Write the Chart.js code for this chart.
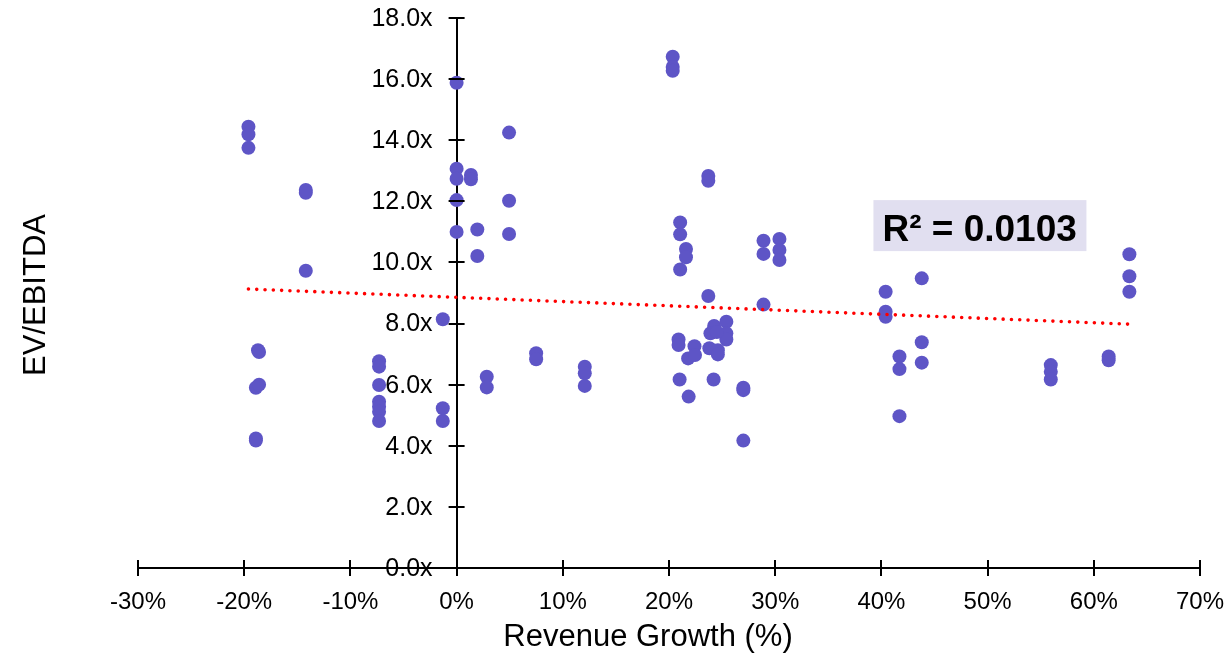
<!DOCTYPE html>
<html>
<head>
<meta charset="utf-8">
<script src="https://cdn.jsdelivr.net/npm/chart.js@4"></script>
<style>
  html, body { margin: 0; padding: 0; background: #fff; }
  #wrap { width: 1229px; height: 657px; position: relative; }
</style>
</head>
<body>
<div id="wrap"><canvas id="scatter"></canvas></div>
<script>
// values
const growthPct = [
  -19.6, -19.6, -19.6, -14.2, -14.2, -14.2,
  -18.7, -18.6, -18.9, -18.6, -18.9, -18.9,
  -7.3, -7.3, -7.3, -7.3, -7.3, -7.3, -7.3,
  -1.3, -1.3, -1.3,
  0, 0, 0, 0, 0, 1.35, 1.35, 1.95, 1.95,
  4.94, 4.94, 4.94, 2.84, 2.84, 7.49, 7.49,
  12.07, 12.07, 12.07,
  20.35, 20.35, 20.35, 23.7, 23.7, 23.7,
  21.05, 21.05, 21.05, 21.6, 21.6,
  28.9, 28.9, 28.9, 30.4, 30.4, 30.4,
  20.9, 20.9, 22.4, 21.8, 22.45, 24.25, 23.9, 25.4, 25.4, 25.4, 23.8, 24.6, 24.6, 24.5,
  21.0, 24.2, 21.85, 27.0, 27.0, 27.0,
  40.4, 40.4, 40.4, 43.8, 43.8, 43.8, 41.7, 41.7, 41.7,
  55.95, 55.95, 55.95, 63.35, 63.35, 63.35, 61.4, 61.4
];
const evEbitda = [
  14.44, 14.19, 13.75, 12.37, 12.28, 9.73,
  7.13, 7.07, 5.9, 6.0, 4.24, 4.17,
  6.77, 6.59, 5.99, 5.44, 5.28, 5.11, 4.81,
  8.14, 5.23, 4.81,
  15.88, 13.07, 12.74, 12.04, 11.0, 12.86, 12.72, 11.08, 10.21,
  14.25, 12.02, 10.93, 6.26, 5.91, 7.03, 6.83,
  6.59, 6.37, 5.96,
  16.73, 16.4, 16.27, 12.83, 12.67, 8.9,
  11.31, 10.92, 9.77, 10.44, 10.17,
  10.71, 10.28, 8.62, 10.77, 10.41, 10.08,
  7.48, 7.3, 7.26, 6.86, 6.97, 7.92, 7.68, 8.06, 7.68, 7.48, 7.19, 7.13, 6.99, 7.72,
  6.17, 6.17, 5.61, 5.9, 5.82, 4.17,
  9.04, 8.39, 8.22, 9.48, 7.39, 6.72, 6.92, 6.51, 4.97,
  6.64, 6.42, 6.17, 10.27, 9.55, 9.04, 6.92, 6.8
];
const trendX = [-19.6, 63.35];
const trendY = [9.13, 7.98];
const xTickValues = [-30, -20, -10, 0, 10, 20, 30, 40, 50, 60, 70];
const yTickValues = [0, 2, 4, 6, 8, 10, 12, 14, 16, 18];
const rSquaredLabel = 'R\u00b2 = 0.0103';
const labelAnchor = { x: 39.25, y: 12.04 };

const FONT = '"Liberation Sans", Arial, sans-serif';
const fmtY = v => v.toFixed(1) + 'x';

// no extra room for tick label overhang, the padding below fixes the plot box
const noPad = s => { s.paddingTop = 0; s.paddingBottom = 0; s.paddingLeft = 0; s.paddingRight = 0; };

// Excel style "cross" tick marks, y labels, the R² box and axis titles
const extras = {
  id: 'extras',
  afterDatasetsDraw(chart) {
    const { ctx, scales: { x, y } } = chart;
    const x0 = x.getPixelForValue(0);
    const y0 = y.getPixelForValue(0);
    ctx.save();
    ctx.strokeStyle = '#000';
    ctx.lineWidth = 2;
    ctx.beginPath();
    xTickValues.forEach(v => {
      const px = Math.round(x.getPixelForValue(v));
      ctx.moveTo(px, y0 - 8);
      ctx.lineTo(px, y0 + 8);
    });
    yTickValues.forEach(v => {
      const py = Math.round(y.getPixelForValue(v));
      ctx.moveTo(x0 - 8, py);
      ctx.lineTo(x0 + 8, py);
    });
    ctx.stroke();

    // y tick labels, left of the axis
    ctx.fillStyle = '#000';
    ctx.font = '25px ' + FONT;
    ctx.textAlign = 'right';
    ctx.textBaseline = 'middle';
    yTickValues.forEach(v => {
      ctx.fillText(fmtY(v), x0 - 24, y.getPixelForValue(v) + 1);
    });

    // R² label
    const bx = x.getPixelForValue(labelAnchor.x);
    const by = y.getPixelForValue(labelAnchor.y);
    ctx.fillStyle = '#E1DFF0';
    ctx.fillRect(bx, by, 213, 51);
    ctx.fillStyle = '#000';
    ctx.font = 'bold 37px ' + FONT;
    ctx.textBaseline = 'alphabetic';
    ctx.textAlign = 'left';
    ctx.fillText(rSquaredLabel, bx + 9, by + 41);

    // axis titles
    ctx.font = '31px ' + FONT;
    ctx.textAlign = 'center';
    ctx.textBaseline = 'middle';
    ctx.fillText('Revenue Growth (%)', 648, 637);
    ctx.translate(36, 295);
    ctx.rotate(-Math.PI / 2);
    ctx.fillText('EV/EBITDA', 0, 0);
    ctx.restore();
  }
};

new Chart(document.getElementById('scatter'), {
  type: 'scatter',
  data: {
    datasets: [{
      type: 'line',
      label: 'Trend',
      data: trendX.map((v, i) => ({ x: v, y: trendY[i] })),
      borderColor: '#FF0000',
      borderWidth: 3.6,
      borderDash: [0, 8.3],
      borderCapStyle: 'round',
      pointRadius: 0,
      fill: false,
      order: 0
    }, {
      label: 'EV/EBITDA',
      data: growthPct.map((v, i) => ({ x: v, y: evEbitda[i] })),
      backgroundColor: '#5E55C6',
      borderWidth: 0,
      pointRadius: 7,
      pointHoverRadius: 7,
      order: 1
    }]
  },
  options: {
    responsive: true,
    maintainAspectRatio: false,
    animation: false,
    layout: { padding: { left: 138, right: 29, top: 18, bottom: 89 } },
    plugins: {
      legend: { display: false },
      tooltip: { enabled: false }
    },
    scales: {
      x: {
        type: 'linear',
        position: { y: 0 },
        min: -30,
        max: 70,
        afterBuildTicks: s => { s.ticks = xTickValues.map(v => ({ value: v })); },
        afterFit: noPad,
        ticks: {
          color: '#000',
          font: { family: FONT, size: 24 },
          padding: 20,
          maxRotation: 0,
          callback: v => v + '%'
        },
        grid: { display: false, drawTicks: false },
        border: { display: true, color: '#000', width: 2 }
      },
      y: {
        type: 'linear',
        position: { x: 0 },
        min: 0,
        max: 18,
        afterBuildTicks: s => { s.ticks = yTickValues.map(v => ({ value: v })); },
        afterFit: noPad,
        ticks: { display: false },
        grid: { display: false, drawTicks: false },
        border: { display: true, color: '#000', width: 2 }
      }
    }
  },
  plugins: [extras]
});
</script>
</body>
</html>
